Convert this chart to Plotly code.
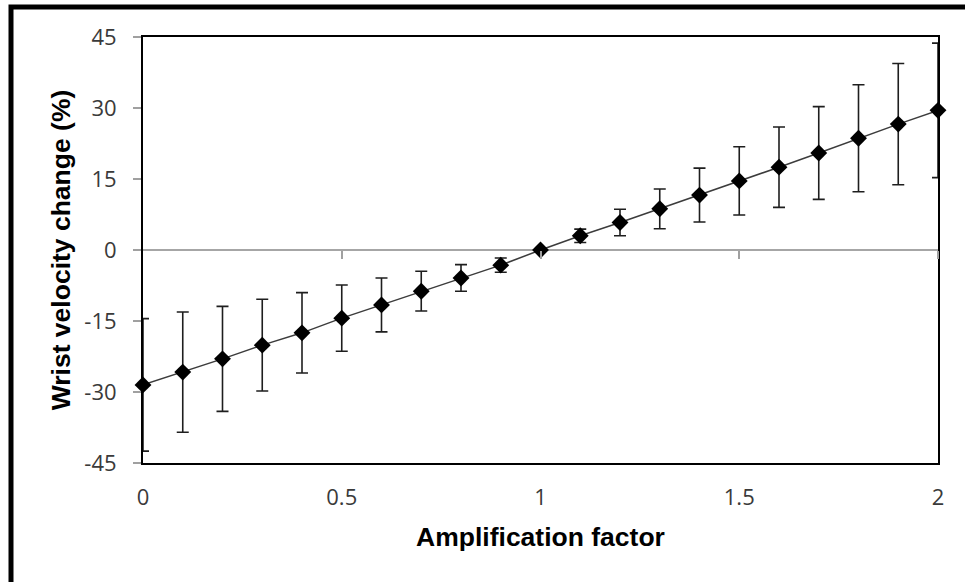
import plotly.graph_objects as go

# Data
amplification = [0.0, 0.1, 0.2, 0.3, 0.4, 0.5, 0.6, 0.7, 0.8, 0.9, 1.0,
                 1.1, 1.2, 1.3, 1.4, 1.5, 1.6, 1.7, 1.8, 1.9, 2.0]
velocity_change = [-28.5, -25.8, -23.0, -20.1, -17.5, -14.4, -11.6, -8.7, -5.9, -3.2, 0.0,
                   3.0, 5.8, 8.7, 11.6, 14.6, 17.5, 20.5, 23.6, 26.6, 29.5]
velocity_sd = [14.0, 12.7, 11.1, 9.7, 8.5, 7.0, 5.7, 4.2, 2.8, 1.5, 0.0,
               1.4, 2.8, 4.2, 5.7, 7.2, 8.5, 9.8, 11.3, 12.8, 14.2]

x_ticks = [0, 0.5, 1, 1.5, 2]
x_ticklabels = ["0", "0.5", "1", "1.5", "2"]
y_ticks = [-45, -30, -15, 0, 15, 30, 45]
y_ticklabels = ["-45", "-30", "-15", "0", "15", "30", "45"]

W, H = 965, 582
L, R, T, B = 143, 27, 37, 119
PW, PH = W - L - R, H - T - B


def px_x(p):
    return (p - L) / PW


def px_y(p):
    return (H - B - p) / PH


tick_font = dict(family="Open Sans", size=22, color="#3a3a3a")
title_font = dict(family="Liberation Sans", size=26.5, color="black", weight="bold")

fig = go.Figure()

# error bars (clipped to plot area)
fig.add_trace(go.Scatter(
    x=amplification, y=velocity_change, mode="markers",
    marker=dict(size=1, opacity=0),
    error_y=dict(type="data", array=velocity_sd, color="#1e1e1e", thickness=1.6, width=6),
    cliponaxis=True, showlegend=False, hoverinfo="skip",
    xaxis="x", yaxis="y",
))

# line + diamond markers (not clipped)
fig.add_trace(go.Scatter(
    x=amplification, y=velocity_change, mode="lines+markers",
    line=dict(color="#3c3c3c", width=1.5),
    marker=dict(symbol="diamond", size=13, color="black", line=dict(width=0)),
    cliponaxis=False, showlegend=False,
    xaxis="x2", yaxis="y",
))

fig.update_layout(
    width=W, height=H,
    margin=dict(l=L, r=R, t=T, b=B, pad=0),
    paper_bgcolor="white", plot_bgcolor="white",
    showlegend=False,
    xaxis=dict(
        range=[0, 2], tickvals=x_ticks, ticktext=x_ticklabels,
        showline=True, linecolor="black", linewidth=2, mirror=True,
        ticks="", showgrid=False, zeroline=False,
        tickfont=tick_font, ticklabelstandoff=14,
        title=dict(text="Amplification factor", font=title_font, standoff=17),
    ),
    xaxis2=dict(
        range=[0, 2], overlaying="x", anchor="free", position=0.5,
        tickvals=[0.5, 1, 1.5, 2], ticks="outside", ticklen=8, tickwidth=1.5,
        tickcolor="#a0a0a0", showticklabels=False, showline=False,
        showgrid=False, zeroline=False,
    ),
    yaxis=dict(
        range=[-45, 45], tickvals=y_ticks, ticktext=y_ticklabels,
        showline=True, linecolor="black", linewidth=2, mirror=True,
        ticks="outside", ticklen=8, tickwidth=1.5, tickcolor="#a0a0a0",
        showgrid=False, zeroline=True, zerolinecolor="#a6a6a6", zerolinewidth=1.5,
        tickfont=tick_font, ticklabelstandoff=12,
        title=dict(text="Wrist velocity change (%)", font=title_font, standoff=6),
    ),
    shapes=[
        dict(type="rect", xref="paper", yref="paper",
             x0=px_x(11), y0=px_y(7), x1=px_x(1200), y1=px_y(800),
             line=dict(color="black", width=5), fillcolor="rgba(0,0,0,0)",
             layer="above"),
    ],
)

fig.write_html(
    "out.html",
    config={"displayModeBar": False},
    post_script="document.body.style.margin='0';document.body.style.overflow='hidden';",
)
